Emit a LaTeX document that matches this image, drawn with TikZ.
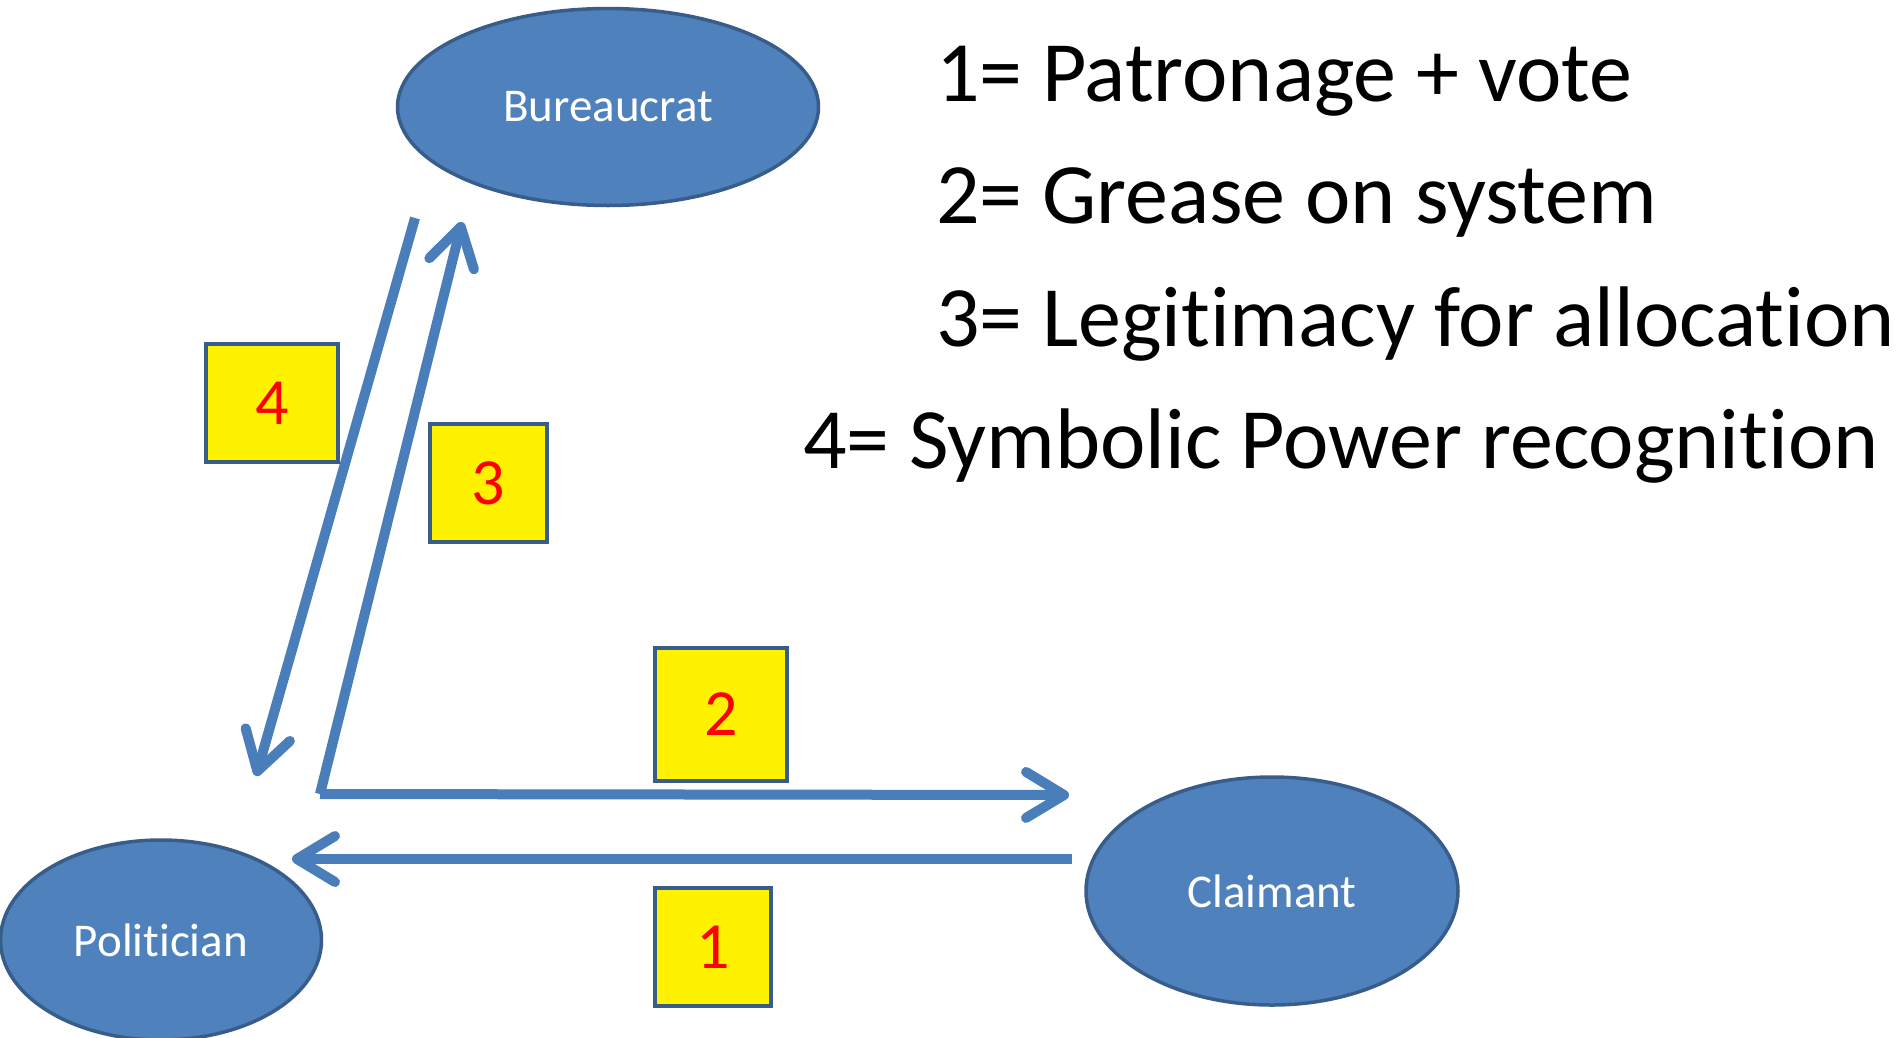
\documentclass[tikz,border=0pt]{standalone}
\usepackage{fontspec}
\setmainfont[Ligatures=NoCommon]{Carlito}
\usetikzlibrary{shapes.geometric,arrows.meta}
\definecolor{nodefill}{HTML}{4F81BD}
\definecolor{nodeline}{HTML}{385D8A}
\definecolor{arrowblue}{HTML}{4A7EBB}
\begin{document}
\begin{tikzpicture}[x=1pt,y=-1pt,
 actor/.style={ellipse, draw=nodeline, line width=3.5pt, fill=nodefill, inner sep=0pt, text=white, font=\fontsize{47}{56}\selectfont},
 numbox/.style={rectangle, draw=nodeline, line width=4pt, fill=yellow, text=red, inner sep=0pt, font=\fontsize{66}{79}\selectfont},
 flow/.style={draw=arrowblue, line width=10pt, -{Straight Barb[length=38pt,width=46pt,round]}},
 legend/.style={anchor=base west, inner sep=0pt, font=\fontsize{86}{103}\selectfont}]
\useasboundingbox (0,0) rectangle (1901,1037);

% actors
\node[actor, minimum width=421pt, minimum height=197pt] (bur) at (608,107) {Bureaucrat};
\node[actor, minimum width=321pt, minimum height=200pt] (pol) at (161,940) {Politician};
\node[actor, minimum width=372pt, minimum height=228pt] (cla) at (1272,891) {Claimant};

% arrow end points
\coordinate (a4s) at (415,218);
\coordinate (a4e) at (256,776);
\coordinate (corner) at (320,794);
\coordinate (a3e) at (462,222);
\coordinate (a2e) at (1069,795);
\coordinate (a1s) at (1072,859);
\coordinate (a1e) at (292,859);

\draw[flow] (a4s) -- (a4e);
\draw[flow] (corner) -- (a3e);
\draw[flow] (corner) -- (a2e);
\draw[flow] (a1s) -- (a1e);

% number boxes
\node[numbox, minimum width=132pt, minimum height=118pt] (n4) at (272,403) {4};
\node[numbox, minimum width=117pt, minimum height=118pt] (n3) at (488,483) {3};
\node[numbox, minimum width=132pt, minimum height=133pt] (n2) at (721,714) {2};
\node[numbox, minimum width=116pt, minimum height=118pt] (n1) at (713,947) {1};

% legend
\node[legend] (l1) at (936,101) {1= Patronage + vote};
\node[legend] (l2) at (936,223) {2= Grease on system};
\node[legend] (l3) at (936,346) {3= Legitimacy for allocation};
\node[legend] (l4) at (803,468) {4= Symbolic Power recognition};
\end{tikzpicture}
\end{document}
